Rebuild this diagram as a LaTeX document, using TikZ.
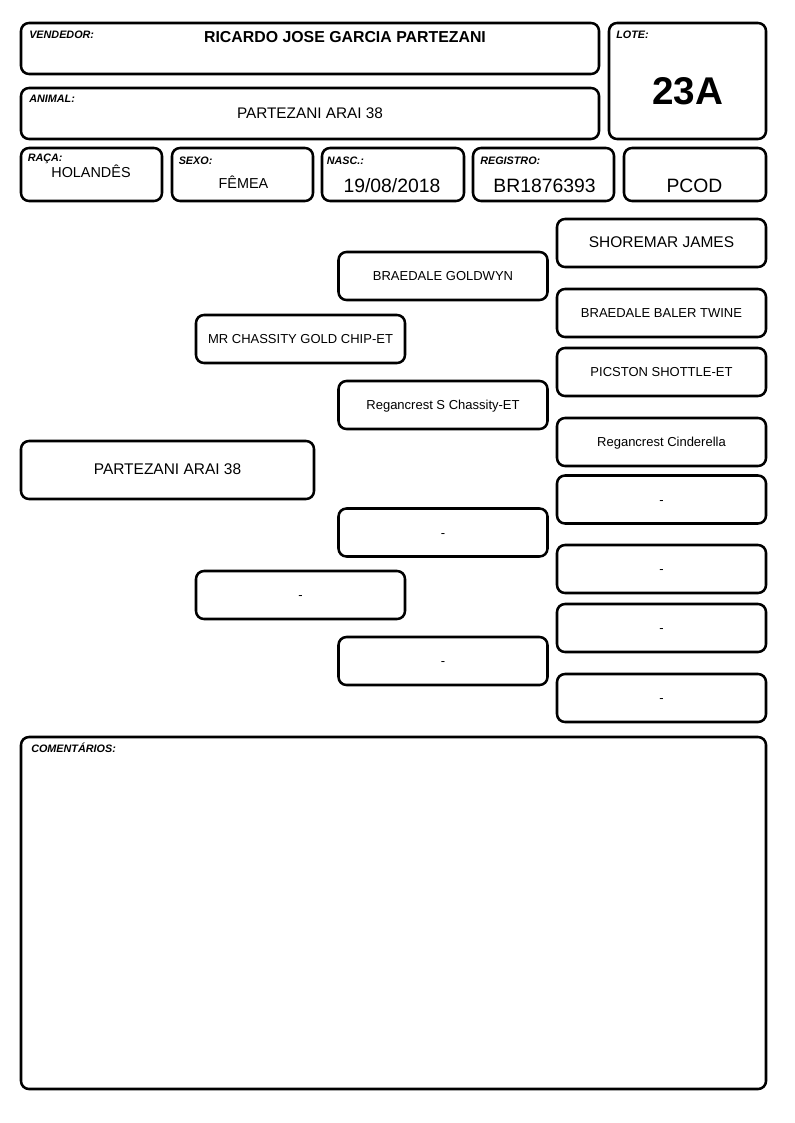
\documentclass[tikz,border=0pt]{standalone}
\usepackage{fontspec}
\setmainfont{Liberation Sans}
\usetikzlibrary{positioning}

\begin{document}
\begin{tikzpicture}[x=0.75pt, y=-0.75pt, line width=1.9pt,
  box/.style = {draw, rounded corners=6pt, inner sep=0pt},
  sz/.style 2 args = {minimum width=#1*0.75pt, minimum height=#2*0.75pt},
  ped/.style = {box, sz={209}{48}, text height=0.72em, text depth=0pt, font=\fontsize{9.75}{11}\selectfont},
  tag/.style = {anchor=base west, inner sep=0pt, font=\fontsize{8.1}{9}\selectfont\bfseries\itshape},
  val/.style = {anchor=base, inner sep=0pt}]
\useasboundingbox (0,0) rectangle (794,1123);

% header
\node[box, sz={578}{51}] (vend) at (310,48.5) {};
\node[tag] (vendtag) at (28,39) {VENDEDOR:};
\node[val, font=\fontsize{11.9}{13}\selectfont\bfseries] (vendval) at (345,43) {RICARDO JOSE GARCIA PARTEZANI};
\node[box, sz={578}{51}] (anim) at (310,113.5) {};
\node[tag] (animtag) at (28,102.3) {ANIMAL:};
\node[val, font=\fontsize{11.5}{13}\selectfont] (animval) at (310,119) {PARTEZANI ARAI 38};
\node[box, sz={157}{116}] (lote) at (687.5,81) {};
\node[tag] (lotetag) at (615,39) {LOTE:};
\node[val, font=\fontsize{29}{32}\selectfont\bfseries] (loteval) at (687.5,105) {23A};

\node[box, sz={141}{53}] (raca) at (91.5,174.5) {};
\node[tag] (racatag) at (26.5,161.5) {RAÇA:};
\node[val, font=\fontsize{10.8}{12}\selectfont] (racaval) at (91,177.5) {HOLANDÊS};
\node[box, sz={141}{53}] (sexo) at (242.5,174.5) {};
\node[tag] (sexotag) at (177.5,165) {SEXO:};
\node[val, font=\fontsize{10.8}{12}\selectfont] (sexoval) at (243.5,189) {FÊMEA};
\node[box, sz={142}{53}] (nasc) at (393,174.5) {};
\node[tag] (nasctag) at (325.5,165) {NASC.:};
\node[val, font=\fontsize{14.5}{16}\selectfont] (nascval) at (392,193) {19/08/2018};
\node[box, sz={141}{53}] (regi) at (543.5,174.5) {};
\node[tag] (regitag) at (479,165) {REGISTRO:};
\node[val, font=\fontsize{14.5}{16}\selectfont] (regival) at (544.5,193) {BR1876393};
\node[box, sz={142}{53}] (pcod) at (695,174.5) {};
\node[val, font=\fontsize{14.5}{16}\selectfont] (pcodval) at (694.5,193) {PCOD};

% pedigree
\node[ped, sz={293}{58}, font=\fontsize{11.6}{13}\selectfont] (an0) at (167.5,470) {PARTEZANI ARAI 38};

\node[ped] (pai) at (300.5,339) {MR CHASSITY GOLD CHIP-ET};
\node[ped] (mae) at (300.5,595) {-};

\node[ped] (pp) at (443,276) {BRAEDALE GOLDWYN};
\node[ped] (pm) at (443,405) {Regancrest S Chassity-ET};
\node[ped] (mp) at (443,532.5) {-};
\node[ped] (mm) at (443,661) {-};

\node[ped, font=\fontsize{11.6}{13}\selectfont] (ppp) at (661.5,243) {SHOREMAR JAMES};
\node[ped] (ppm) at (661.5,313) {BRAEDALE BALER TWINE};
\node[ped] (pmp) at (661.5,372) {PICSTON SHOTTLE-ET};
\node[ped] (pmm) at (661.5,442) {Regancrest Cinderella};
\node[ped] (mpp) at (661.5,499.5) {-};
\node[ped] (mpm) at (661.5,569) {-};
\node[ped] (mmp) at (661.5,628) {-};
\node[ped] (mmm) at (661.5,698) {-};

% comments
\node[box, sz={745}{352}] (coment) at (393.5,913) {};
\node[tag] (comenttag) at (30,752.5) {COMENTÁRIOS:};

\end{tikzpicture}
\end{document}
